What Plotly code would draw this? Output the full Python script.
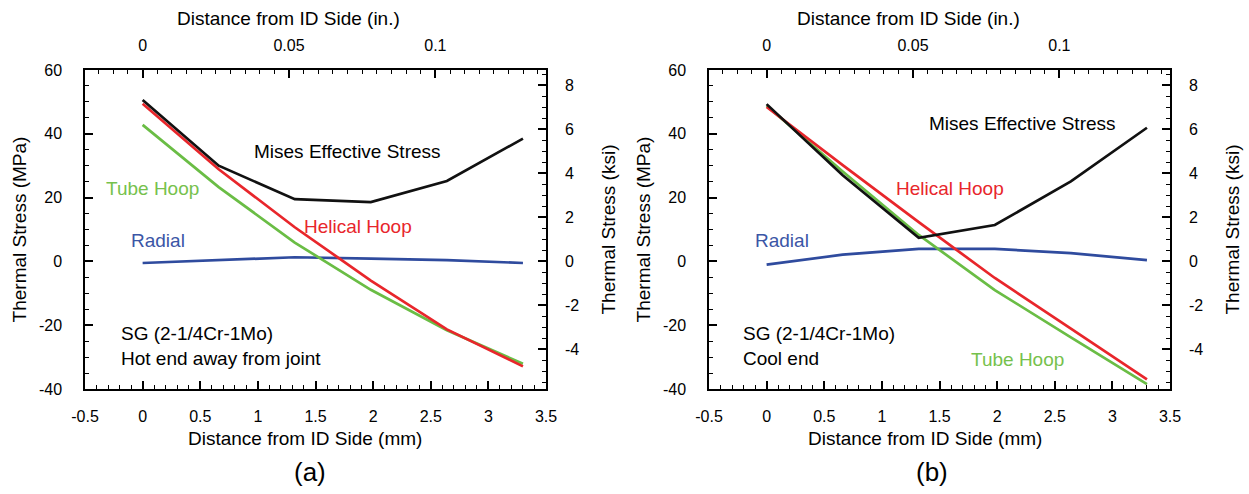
import plotly.graph_objects as go

# ---------------- data ----------------
x_mm = [0.0, 0.66, 1.32, 1.98, 2.64, 3.30]

a_mises = [50.6, 30.0, 19.5, 18.6, 25.2, 38.5]
a_helical = [49.4, 28.9, 10.7, -6.0, -21.3, -32.9]
a_tube = [42.8, 23.3, 5.9, -8.9, -21.6, -32.1]
a_radial = [-0.5, 0.4, 1.3, 0.9, 0.4, -0.5]

b_mises = [49.3, 27.0, 7.4, 11.4, 25.1, 41.9]
b_helical = [48.4, 30.2, 12.3, -5.2, -21.1, -37.0]
b_tube = [48.8, 28.2, 8.3, -9.0, -23.8, -38.5]
b_radial = [-1.0, 2.1, 3.9, 3.9, 2.6, 0.4]

mm_ticks = [-0.5, 0, 0.5, 1, 1.5, 2, 2.5, 3, 3.5]
mm_text = ["-0.5", "0", "0.5", "1", "1.5", "2", "2.5", "3", "3.5"]
in_ticks = [0, 0.05, 0.1]
in_text = ["0", "0.05", "0.1"]
mpa_ticks = [-40, -20, 0, 20, 40, 60]
mpa_text = ["-40", "-20", "0", "20", "40", "60"]
ksi_ticks = [-4, -2, 0, 2, 4, 6, 8]
ksi_text = ["-4", "-2", "0", "2", "4", "6", "8"]

MM_PER_IN = 25.4
KSI_PER_MPA = 0.145038
X_RANGE = [-0.5, 3.5]
Y_RANGE = [-40, 60]

BLACK = "#111111"
RED = "#e8262b"
GREEN = "#6abd45"
BLUE = "#2f4b9e"
GREEN_T = "#76c14c"
BLUE_T = "#3b56a6"

FONT = "Liberation Sans, Arial, Helvetica, sans-serif"
W, H = 1249, 494


def px(xp):
    return xp / W


def py(yp):
    return 1 - yp / H


fig = go.Figure()

panels = [
    ("x", "y", "x2", "y2", a_radial, a_tube, a_helical, a_mises),
    ("x3", "y3", "x4", "y4", b_radial, b_tube, b_helical, b_mises),
]
for xa, ya, xa2, ya2, rad, tube, hel, mis in panels:
    for name, vals, col in [("Radial", rad, BLUE), ("Tube Hoop", tube, GREEN),
                            ("Helical Hoop", hel, RED), ("Mises Effective Stress", mis, BLACK)]:
        fig.add_trace(go.Scatter(x=x_mm, y=vals, mode="lines", name=name,
                                 line=dict(color=col, width=2.7),
                                 xaxis=xa, yaxis=ya, showlegend=False))
    # empty traces so the secondary (inch / ksi) axes get drawn
    fig.add_trace(go.Scatter(x=[], y=[], mode="lines", xaxis=xa2, yaxis=ya2,
                             showlegend=False, hoverinfo="skip"))


def axis_style(**kw):
    d = dict(showline=True, linecolor="black", linewidth=1.5, ticks="inside",
             ticklen=8, tickwidth=1.5, tickcolor="black", showgrid=False,
             zeroline=False, automargin=False, tickfont=dict(size=16, color="black"),
             tickmode="array", fixedrange=True)
    d.update(kw)
    return d


def minor(dt):
    return dict(dtick=dt, tick0=0, ticks="inside", ticklen=4, tickwidth=1.3,
                tickcolor="black", showgrid=False)


dom_a = [px(85), px(546)]
dom_b = [px(709), px(1170)]
dom_y = [py(389), py(70)]

layout_axes = {}
for i, dom in [(0, dom_a), (1, dom_b)]:
    xb = "xaxis" if i == 0 else "xaxis3"
    xt = "xaxis2" if i == 0 else "xaxis4"
    yl = "yaxis" if i == 0 else "yaxis3"
    yr = "yaxis2" if i == 0 else "yaxis4"
    xref = "x" if i == 0 else "x3"
    yref = "y" if i == 0 else "y3"
    layout_axes[xb] = axis_style(domain=dom, anchor=yref, side="bottom", range=X_RANGE,
                                 tickvals=mm_ticks, ticktext=mm_text, minor=minor(0.1),
                                 ticklabelstandoff=12)
    layout_axes[xt] = axis_style(overlaying=xref, anchor=yref, side="top",
                                 range=[X_RANGE[0] / MM_PER_IN, X_RANGE[1] / MM_PER_IN],
                                 tickvals=in_ticks, ticktext=in_text, minor=minor(0.005),
                                 ticklabelstandoff=11)
    layout_axes[yl] = axis_style(domain=dom_y, anchor=xref, side="left", range=Y_RANGE,
                                 tickvals=mpa_ticks, ticktext=mpa_text, minor=minor(5),
                                 ticklabelstandoff=18,
                                 title=dict(text="Thermal Stress (MPa)", standoff=7,
                                            font=dict(size=19, color="black")))
    layout_axes[yr] = axis_style(overlaying=yref, anchor=xref, side="right",
                                 range=[Y_RANGE[0] * KSI_PER_MPA, Y_RANGE[1] * KSI_PER_MPA],
                                 tickvals=ksi_ticks, ticktext=ksi_text, minor=minor(0.5),
                                 ticklabelstandoff=14,
                                 title=dict(text="Thermal Stress (ksi)", standoff=23,
                                            font=dict(size=19, color="black")))

ann = []


def label(text, x, y, xref, yref, color="black", size=19, xanchor="center", align="center"):
    ann.append(dict(text=text, x=x, y=y, xref=xref, yref=yref, showarrow=False,
                    font=dict(size=size, color=color, family=FONT),
                    xanchor=xanchor, yanchor="middle", align=align))


# axis titles for the x axes (bottom mm, top in.)
label("Distance from ID Side (mm)", px(305), py(438), "paper", "paper")
label("Distance from ID Side (in.)", px(288), py(18), "paper", "paper")
label("Distance from ID Side (mm)", px(925), py(438), "paper", "paper")
label("Distance from ID Side (in.)", px(908), py(18), "paper", "paper")
label("(a)", px(310), py(472), "paper", "paper", size=26)
label("(b)", px(932), py(472), "paper", "paper", size=26)

# panel (a) labels
label("Mises Effective Stress", 1.778, 34.3, "x", "y")
label("Tube Hoop", 0.087, 22.7, "x", "y", color=GREEN_T)
label("Helical Hoop", 1.870, 10.9, "x", "y", color=RED)
label("Radial", 0.130, 6.7, "x", "y", color=BLUE_T)
label("SG (2-1/4Cr-1Mo)<br>Hot end away from joint", -0.204, -26.5, "x", "y",
      xanchor="left", align="left")

# panel (b) labels
label("Mises Effective Stress", 2.216, 43.1, "x3", "y3")
label("Helical Hoop", 1.589, 22.9, "x3", "y3", color=RED)
label("Radial", 0.131, 6.7, "x3", "y3", color=BLUE_T)
label("Tube Hoop", 2.178, -30.9, "x3", "y3", color=GREEN_T)
label("SG (2-1/4Cr-1Mo)<br>Cool end", -0.222, -26.5, "x3", "y3",
      xanchor="left", align="left")

fig.update_layout(
    template="none",
    width=W, height=H,
    margin=dict(l=0, r=0, t=0, b=0),
    paper_bgcolor="white", plot_bgcolor="white",
    font=dict(family=FONT, size=16, color="black"),
    showlegend=False,
    annotations=ann,
    **layout_axes,
)

fig.write_html("out.html")
